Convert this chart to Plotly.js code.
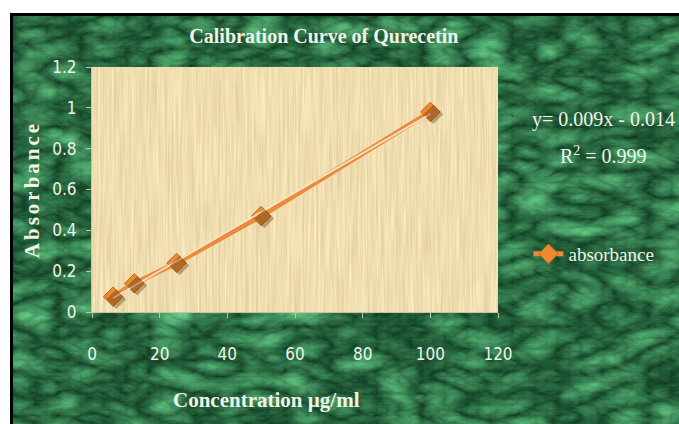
<!DOCTYPE html>
<html>
<head>
<meta charset="utf-8">
<script src="https://cdn.plot.ly/plotly-3.0.1.min.js"></script>
<style>
  html, body { margin: 0; padding: 0; background: #ffffff; }
  #wrap { position: relative; width: 679px; height: 424px; overflow: hidden; background: #ffffff; }
  #marble {
    position: absolute; left: 10px; top: 13px; right: 0; bottom: 0;
    border-top: 3px solid #000; border-left: 3px solid #000;
    background-color: #225a38;
  }
  #papyrus {
    position: absolute; left: 92px; top: 67px; width: 406px; height: 245px;
    background-color: #eed9a6;
  }
  #chart { position: absolute; left: 0; top: 0; width: 679px; height: 424px; }
  .ytitle { letter-spacing: 3px; }
</style>
</head>
<body>
<div id="wrap">
  <div id="marble"></div>
  <div id="papyrus"></div>
  <div id="chart"></div>
</div>
<script>
// ---- data ----
const concentration = [6.25, 12.5, 25, 50, 100];      // µg/ml
const absorbance    = [0.075, 0.14, 0.24, 0.47, 0.98];
const seriesName    = 'absorbance';
const equationText  = 'y= 0.009x - 0.014';
const r2Text        = 'R<sup>2</sup> = 0.999';
const xTickVals     = [0, 20, 40, 60, 80, 100, 120];
const yTickVals     = [0, 0.2, 0.4, 0.6, 0.8, 1, 1.2];
const yTickText     = ['0', '0.2', '0.4', '0.6', '0.8', '1', '1.2'];

// ---- decorative textures (styling only) ----
function svgTexture(w, h, freq, octaves, type, seed, matrix) {
  const svg = "<svg xmlns='http://www.w3.org/2000/svg' width='" + w + "' height='" + h + "'>" +
    "<filter id='f' x='0' y='0' width='100%' height='100%' color-interpolation-filters='sRGB'>" +
    "<feTurbulence type='" + type + "' baseFrequency='" + freq + "' numOctaves='" + octaves + "' seed='" + seed + "'/>" +
    "<feColorMatrix type='matrix' values='" + matrix + "'/></filter>" +
    "<rect width='100%' height='100%' filter='url(#f)'/></svg>";
  return 'url("data:image/svg+xml;charset=utf-8,' + encodeURIComponent(svg) + '")';
}
document.getElementById('marble').style.backgroundImage =
  svgTexture(669, 411, '0.022 0.045', 5, 'turbulence', 7,
    '0.40 0 0 0 0.05  0.68 0 0 0 0.22  0.48 0 0 0 0.12  0 0 0 0 1');
document.getElementById('papyrus').style.backgroundImage =
  svgTexture(406, 245, '0.45 0.015', 3, 'fractalNoise', 4,
    '0.14 0 0 0 0.87  0.18 0 0 0 0.78  0.24 0 0 0 0.57  0 0 0 0 1');

// linear least-squares trendline through the data (as the spreadsheet does)
const n = concentration.length;
const mx = concentration.reduce((a, b) => a + b, 0) / n;
const my = absorbance.reduce((a, b) => a + b, 0) / n;
let sxy = 0, sxx = 0;
for (let i = 0; i < n; i++) {
  sxy += (concentration[i] - mx) * (absorbance[i] - my);
  sxx += (concentration[i] - mx) ** 2;
}
const slope = sxy / sxx, intercept = my - slope * mx;
const trendX = [Math.min(...concentration), Math.max(...concentration)];
const trendY = trendX.map(x => slope * x + intercept);

const serif = '"Liberation Serif", "Times New Roman", serif';
const narrow = '"Liberation Sans Narrow", "DejaVu Sans Condensed", "Roboto Condensed", sans-serif';
const textCol = '#eef4e6';

const traces = [
  { // soft shadow of the markers
    x: concentration, y: absorbance, mode: 'markers', showlegend: false, hoverinfo: 'skip',
    marker: { symbol: 'diamond', size: 15, color: 'rgba(70,40,10,0.35)', line: { width: 0 } },
    xaxis: 'x2', yaxis: 'y2'
  },
  {
    x: concentration, y: absorbance, mode: 'lines+markers', name: seriesName,
    line: { color: '#ea8a3c', width: 5 },
    marker: { symbol: 'diamond', size: 15, color: '#ec8a30', line: { color: '#c8641c', width: 1 } }
  },
  {
    x: trendX, y: trendY, mode: 'lines', showlegend: false, hoverinfo: 'skip',
    line: { color: '#fbe6c8', width: 1.6 }
  }
];

const axisCommon = {
  showgrid: false, zeroline: false, showline: true, linecolor: '#c9c2a8', linewidth: 1,
  ticks: 'outside', ticklen: 5, tickcolor: '#c9c2a8',
  tickfont: { family: narrow, size: 17, color: textCol }
};

const layout = {
  width: 679, height: 424,
  margin: { l: 92, r: 181, t: 67, b: 112 },
  paper_bgcolor: 'rgba(0,0,0,0)', plot_bgcolor: 'rgba(0,0,0,0)',
  title: {
    text: '<b>Calibration Curve of Qurecetin</b>',
    font: { family: serif, size: 20, color: textCol },
    x: 0.477, xanchor: 'center', y: 0.915, yanchor: 'middle'
  },
  xaxis: Object.assign({}, axisCommon, {
    range: [0, 120], tickvals: xTickVals, ticklabelstandoff: 22
  }),
  yaxis: Object.assign({}, axisCommon, {
    range: [0, 1.2], tickvals: yTickVals, ticktext: yTickText, ticklabelstandoff: 6,
    title: { text: '<b>Absorbance</b>', font: { family: serif, size: 21, color: textCol }, standoff: 6 }
  }),
  xaxis2: { overlaying: 'x', range: [-0.9, 119.1], visible: false },
  yaxis2: { overlaying: 'y', range: [0.012, 1.212], visible: false },
  showlegend: true,
  legend: {
    x: 1.075, y: 0.237, xanchor: 'left', yanchor: 'middle',
    bgcolor: 'rgba(0,0,0,0)', font: { family: serif, size: 19, color: textCol },
    itemwidth: 30
  },
  annotations: [
    { xref: 'paper', yref: 'paper', x: 1.261, y: 0.784, xanchor: 'center', yanchor: 'middle',
      text: equationText, showarrow: false, font: { family: serif, size: 20, color: textCol } },
    { xref: 'paper', yref: 'paper', x: 1.261, y: 0.641, xanchor: 'center', yanchor: 'middle',
      text: r2Text, showarrow: false, font: { family: serif, size: 20, color: textCol } },
    { xref: 'paper', yref: 'paper', x: 0.429, y: -0.358, xanchor: 'center', yanchor: 'middle',
      text: '<b>Concentration µg/ml</b>', showarrow: false, font: { family: serif, size: 21, color: textCol } }
  ]
};

Plotly.newPlot('chart', traces, layout, { displayModeBar: false, staticPlot: true });
</script>
</body>
</html>
